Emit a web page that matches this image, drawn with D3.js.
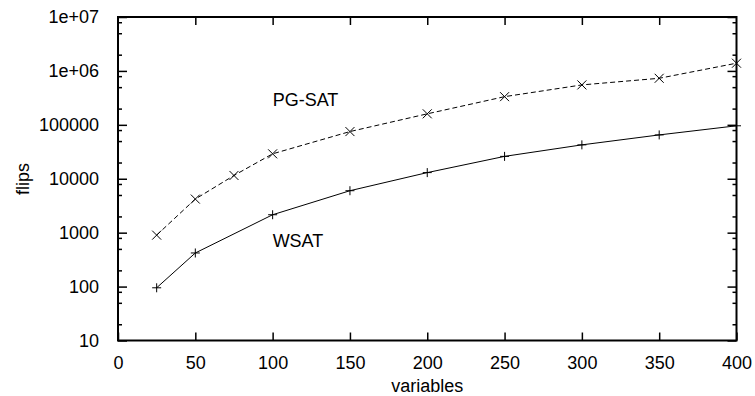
<!DOCTYPE html>
<html>
<head>
<meta charset="utf-8">
<script src="https://cdn.jsdelivr.net/npm/d3@7"></script>
<style>
  body { margin: 0; background: #fff; }
  text { font-family: "Liberation Sans", Arial, sans-serif; font-size: 18px; fill: #000; }
</style>
</head>
<body>
<svg id="chart" width="755" height="396"></svg>
<script>
// values
const variables = [25, 50, 75, 100, 150, 200, 250, 300, 350, 400];
const pgsatFlips = [900, 4200, 11500, 29000, 75000, 160000, 333000, 550000, 730000, 1390000];
const wsatVars = [25, 50, 100, 150, 200, 250, 300, 350, 400];
const wsatFlips = [95, 420, 2150, 6000, 13000, 26000, 42500, 65000, 96000];
const xTicks = [0, 50, 100, 150, 200, 250, 300, 350, 400];
const yTicks = [10, 100, 1000, 10000, 100000, 1e6, 1e7];
const yTickLabels = ["10", "100", "1000", "10000", "100000", "1e+06", "1e+07"];

const svg = d3.select("#chart");
const margin = { left: 118, right: 18.5, top: 17, bottom: 55.5 };
const width = 755, height = 396;
const innerWidth = width - margin.left - margin.right;
const innerHeight = height - margin.top - margin.bottom;

const x = d3.scaleLinear().domain([0, 400]).range([0, innerWidth]);
const y = d3.scaleLog().domain([10, 1e7]).range([innerHeight, 0]);

const g = svg.append("g").attr("transform", `translate(${margin.left},${margin.top})`);

// minor ticks at 2, 5, 8 of each decade
const minorTicks = [];
yTicks.slice(0, -1).forEach(d => [2, 5, 8].forEach(m => minorTicks.push(d * m)));

// axes (ticks pointing inward, mirrored)
const tickStyle = sel => {
    sel.select(".domain").remove();
    sel.selectAll(".tick line").attr("stroke", "#000").attr("stroke-width", 1.5);
};
const noLabels = sel => sel.selectAll(".tick text").remove();

g.append("g")
    .attr("transform", `translate(0,${innerHeight})`)
    .call(d3.axisBottom(x).tickValues(xTicks).tickSize(-8).tickPadding(16))
    .call(tickStyle)
    .call(s => s.selectAll("text").style("font-size", "18px").attr("fill", "#000"));

g.append("g")
    .call(d3.axisTop(x).tickValues(xTicks.slice(1, -1)).tickSize(-8))
    .call(tickStyle)
    .call(noLabels);

g.append("g")
    .call(d3.axisLeft(y).tickValues(yTicks).tickSize(-9).tickPadding(19)
        .tickFormat((d, i) => yTickLabels[i]))
    .call(tickStyle)
    .call(s => s.selectAll("text").style("font-size", "18px").attr("fill", "#000"));

g.append("g")
    .call(d3.axisLeft(y).tickValues(minorTicks).tickSize(-4))
    .call(tickStyle)
    .call(noLabels);

g.append("g")
    .attr("transform", `translate(${innerWidth},0)`)
    .call(d3.axisRight(y).tickValues(yTicks).tickSize(-9))
    .call(tickStyle)
    .call(noLabels);

g.append("g")
    .attr("transform", `translate(${innerWidth},0)`)
    .call(d3.axisRight(y).tickValues(minorTicks).tickSize(-4))
    .call(tickStyle)
    .call(noLabels);

// frame
g.append("rect")
    .attr("width", innerWidth)
    .attr("height", innerHeight)
    .attr("fill", "none")
    .attr("stroke", "#000")
    .attr("stroke-width", 2);

// lines
const line = d3.line().x(d => x(d[0])).y(d => y(d[1]));

const pgsat = variables.map((v, i) => [v, pgsatFlips[i]]);
const wsat = wsatVars.map((v, i) => [v, wsatFlips[i]]);

g.append("path")
    .datum(pgsat)
    .attr("d", line)
    .attr("fill", "none")
    .attr("stroke", "#000")
    .attr("stroke-width", 1)
    .attr("stroke-dasharray", "5,3");

g.append("path")
    .datum(wsat)
    .attr("d", line)
    .attr("fill", "none")
    .attr("stroke", "#000")
    .attr("stroke-width", 1);

// markers
const s = 4.5;
g.selectAll(".cross")
    .data(pgsat)
    .enter()
    .append("path")
    .attr("class", "cross")
    .attr("d", d => {
        const cx = x(d[0]), cy = y(d[1]);
        return `M${cx - s},${cy - s}L${cx + s},${cy + s}M${cx - s},${cy + s}L${cx + s},${cy - s}`;
    })
    .attr("stroke", "#000")
    .attr("stroke-width", 1);

g.selectAll(".plus")
    .data(wsat)
    .enter()
    .append("path")
    .attr("class", "plus")
    .attr("d", d => {
        const cx = x(d[0]), cy = y(d[1]);
        return `M${cx - s},${cy}L${cx + s},${cy}M${cx},${cy - s}L${cx},${cy + s}`;
    })
    .attr("stroke", "#000")
    .attr("stroke-width", 1);

// series labels
g.append("text").attr("x", x(100)).attr("y", y(1e5) - 19).text("PG-SAT");
g.append("text").attr("x", x(100)).attr("y", y(100) - 40).text("WSAT");

// axis titles
svg.append("text")
    .attr("x", margin.left + innerWidth / 2)
    .attr("y", 392)
    .attr("text-anchor", "middle")
    .text("variables");

svg.append("text")
    .attr("transform", "translate(29,179) rotate(-90)")
    .attr("text-anchor", "middle")
    .text("flips");
</script>
</body>
</html>
